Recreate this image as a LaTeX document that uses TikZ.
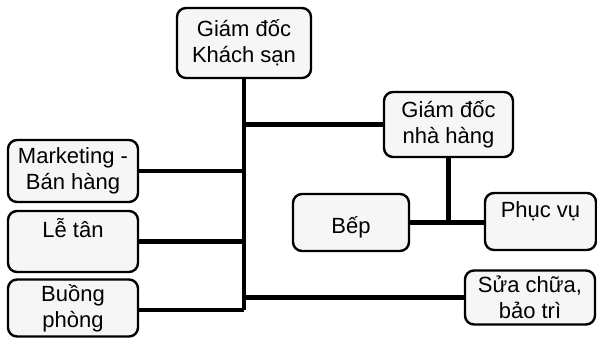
\documentclass[tikz,border=0pt]{standalone}
\usepackage{fontspec}
\setmainfont{Liberation Sans}
\begin{document}
\begin{tikzpicture}[x=1pt,y=-1pt,
  txt/.style={font=\fontsize{22}{26}\selectfont},
  box/.style={draw=black, line width=2.4pt, rounded corners=9pt, fill=gray!7,
    align=center, inner sep=0pt, txt},
  conn/.style={draw=black, line width=4.5pt}]
  \useasboundingbox (0,0) rectangle (597,338);
  % boxes
  \node[box, minimum width=134pt, minimum height=70pt] (gd) at (244,43) {Giám đốc\\Khách sạn};
  \node[box, minimum width=129pt, minimum height=65pt] (nh) at (448.5,124.5) {Giám đốc\\nhà hàng};
  \node[box, minimum width=130pt, minimum height=62pt] (mkt) at (73,171) {Marketing -\\Bán hàng};
  \node[box, minimum width=130pt, minimum height=61pt,
        label={[yshift=13pt,txt]center:Lễ tân}] (lt) at (73,241.5) {};
  \node[box, minimum width=130pt, minimum height=57pt] (bp) at (73,308) {Buồng\\phòng};
  \node[box, minimum width=116pt, minimum height=57pt,
        label={[yshift=-5pt,txt]center:Bếp}] (bep) at (351,222.5) {};
  \node[box, minimum width=111pt, minimum height=57pt,
        label={[yshift=10pt,txt]center:Phục vụ}] (pv) at (540.5,221.5) {};
  \node[box, minimum width=130pt, minimum height=54pt] (sc) at (530,297.5) {Sửa chữa,\\bảo trì};
  % connectors
  \coordinate (tb) at (gd.south |- 0,310);
  \draw[conn] (gd.south) -- (tb);
  \draw[conn] (tb) -- (bp.east |- tb);
  \draw[conn] (nh.west) -- (nh.west -| gd.south);
  \draw[conn] (mkt.east) -- (mkt.east -| gd.south);
  \draw[conn] (lt.east) -- (lt.east -| gd.south);
  \draw[conn] (sc.west) -- (sc.west -| gd.south);
  \draw[conn] (nh.south) -- (nh.south |- bep.east);
  \draw[conn] (bep.east) -- (bep.east -| pv.west);
\end{tikzpicture}
\end{document}
